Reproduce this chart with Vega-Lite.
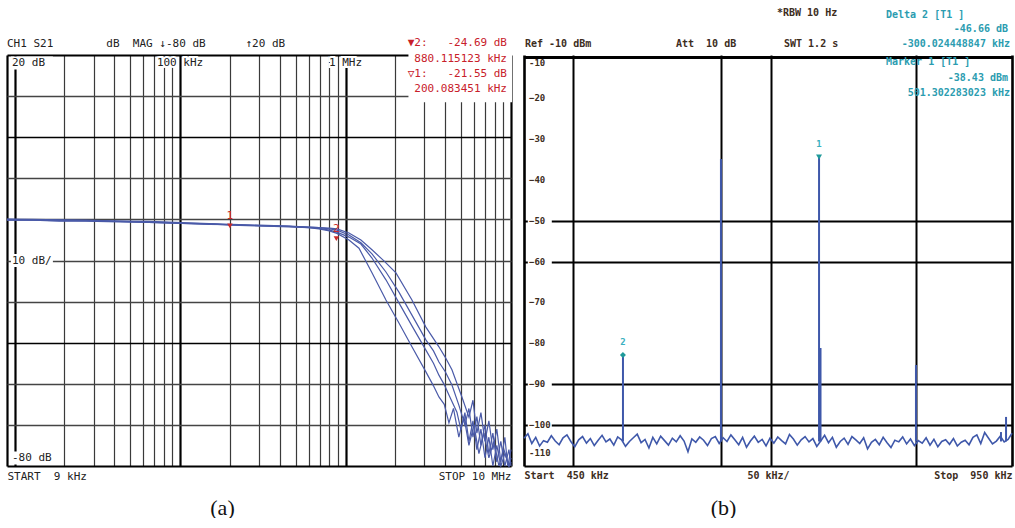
{
"$schema": "https://vega.github.io/schema/vega-lite/v6.json",
"background": "white",
"padding": {"left": 4, "top": 8, "right": 0, "bottom": 0},
"spacing": 6,
"config": {"view": {"stroke": null}},
"datasets": {
"resp": [
{"trace":"A","f":9,"db":-20.0},{"trace":"A","f":13,"db":-20.1},{"trace":"A","f":18.6,"db":-20.2},{"trace":"A","f":27,"db":-20.3},{"trace":"A","f":42.8,"db":-20.5},{"trace":"A","f":65,"db":-20.6},{"trace":"A","f":102.7,"db":-20.9},{"trace":"A","f":150,"db":-21.1},{"trace":"A","f":203,"db":-21.3},{"trace":"A","f":300,"db":-21.5},{"trace":"A","f":455,"db":-21.7},{"trace":"A","f":600,"db":-22.0},{"trace":"A","f":691,"db":-22.3},{"trace":"A","f":800,"db":-22.8},{"trace":"A","f":887,"db":-23.4},{"trace":"A","f":1049,"db":-25.0},{"trace":"A","f":1206,"db":-27.0},{"trace":"A","f":1445,"db":-33.0},{"trace":"A","f":1755,"db":-39.6},{"trace":"A","f":2103,"db":-45.2},{"trace":"A","f":2520,"db":-51.0},{"trace":"A","f":3060,"db":-57.1},{"trace":"A","f":3400,"db":-60.5},{"trace":"A","f":3668,"db":-63.2},{"trace":"A","f":3950,"db":-65.0},{"trace":"A","f":4216,"db":-69.5},{"trace":"A","f":4490,"db":-66},{"trace":"A","f":4840,"db":-73},{"trace":"A","f":5195,"db":-68},{"trace":"A","f":5569,"db":-75},{"trace":"A","f":5970,"db":-70},{"trace":"A","f":6400,"db":-77},{"trace":"A","f":6860,"db":-72},{"trace":"A","f":7350,"db":-78},{"trace":"A","f":7880,"db":-74},{"trace":"A","f":8450,"db":-80},{"trace":"A","f":9060,"db":-76},{"trace":"A","f":9720,"db":-80},{"trace":"A","f":10000,"db":-78},
{"trace":"B","f":9,"db":-20.2},{"trace":"B","f":13,"db":-20.2},{"trace":"B","f":18.6,"db":-20.4},{"trace":"B","f":27,"db":-20.4},{"trace":"B","f":42.8,"db":-20.6},{"trace":"B","f":65,"db":-20.7},{"trace":"B","f":102.7,"db":-21.0},{"trace":"B","f":150,"db":-21.1},{"trace":"B","f":203,"db":-21.4},{"trace":"B","f":300,"db":-21.6},{"trace":"B","f":455,"db":-21.8},{"trace":"B","f":600,"db":-22.0},{"trace":"B","f":691,"db":-22.2},{"trace":"B","f":800,"db":-22.6},{"trace":"B","f":887,"db":-23.1},{"trace":"B","f":1049,"db":-24.3},{"trace":"B","f":1239,"db":-26.0},{"trace":"B","f":1445,"db":-29.4},{"trace":"B","f":1755,"db":-34.7},{"trace":"B","f":2103,"db":-40.3},{"trace":"B","f":2520,"db":-45.9},{"trace":"B","f":3060,"db":-51.8},{"trace":"B","f":3400,"db":-55.0},{"trace":"B","f":3668,"db":-57.9},{"trace":"B","f":3950,"db":-60.2},{"trace":"B","f":4216,"db":-62.7},{"trace":"B","f":4712,"db":-66.9},{"trace":"B","f":4982,"db":-71.2},{"trace":"B","f":5265,"db":-67},{"trace":"B","f":5569,"db":-74},{"trace":"B","f":5890,"db":-69},{"trace":"B","f":6220,"db":-76},{"trace":"B","f":6580,"db":-71},{"trace":"B","f":6960,"db":-78},{"trace":"B","f":7350,"db":-73},{"trace":"B","f":7770,"db":-80},{"trace":"B","f":8210,"db":-75},{"trace":"B","f":8680,"db":-80},{"trace":"B","f":9180,"db":-77},{"trace":"B","f":9720,"db":-80},{"trace":"B","f":10000,"db":-79},
{"trace":"C","f":9,"db":-19.9},{"trace":"C","f":13,"db":-20.0},{"trace":"C","f":18.6,"db":-20.1},{"trace":"C","f":27,"db":-20.2},{"trace":"C","f":42.8,"db":-20.4},{"trace":"C","f":65,"db":-20.5},{"trace":"C","f":102.7,"db":-20.8},{"trace":"C","f":150,"db":-21.0},{"trace":"C","f":203,"db":-21.2},{"trace":"C","f":300,"db":-21.4},{"trace":"C","f":455,"db":-21.6},{"trace":"C","f":600,"db":-21.9},{"trace":"C","f":691,"db":-22.0},{"trace":"C","f":800,"db":-22.3},{"trace":"C","f":887,"db":-22.6},{"trace":"C","f":1049,"db":-23.8},{"trace":"C","f":1239,"db":-25.7},{"trace":"C","f":1445,"db":-28.4},{"trace":"C","f":1755,"db":-32.8},{"trace":"C","f":2103,"db":-37.7},{"trace":"C","f":2520,"db":-43.3},{"trace":"C","f":3060,"db":-49.3},{"trace":"C","f":3400,"db":-52.0},{"trace":"C","f":3668,"db":-54.7},{"trace":"C","f":4000,"db":-57.0},{"trace":"C","f":4397,"db":-60.3},{"trace":"C","f":4840,"db":-65.2},{"trace":"C","f":5265,"db":-70.0},{"trace":"C","f":5569,"db":-66},{"trace":"C","f":5890,"db":-73},{"trace":"C","f":6220,"db":-68},{"trace":"C","f":6580,"db":-75},{"trace":"C","f":6960,"db":-70},{"trace":"C","f":7350,"db":-77},{"trace":"C","f":7770,"db":-72},{"trace":"C","f":8210,"db":-79},{"trace":"C","f":8680,"db":-74},{"trace":"C","f":9180,"db":-80},{"trace":"C","f":9720,"db":-76},{"trace":"C","f":10000,"db":-80},
{"trace":"D","f":9,"db":-20.1},{"trace":"D","f":13,"db":-20.2},{"trace":"D","f":18.6,"db":-20.3},{"trace":"D","f":27,"db":-20.3},{"trace":"D","f":42.8,"db":-20.5},{"trace":"D","f":65,"db":-20.7},{"trace":"D","f":102.7,"db":-21.0},{"trace":"D","f":150,"db":-21.2},{"trace":"D","f":203,"db":-21.3},{"trace":"D","f":300,"db":-21.5},{"trace":"D","f":455,"db":-21.7},{"trace":"D","f":600,"db":-21.9},{"trace":"D","f":691,"db":-22.0},{"trace":"D","f":800,"db":-22.1},{"trace":"D","f":887,"db":-22.3},{"trace":"D","f":1049,"db":-23.3},{"trace":"D","f":1239,"db":-25.0},{"trace":"D","f":1445,"db":-27.4},{"trace":"D","f":1707,"db":-30.1},{"trace":"D","f":2017,"db":-33.0},{"trace":"D","f":2520,"db":-39.6},{"trace":"D","f":3060,"db":-46.2},{"trace":"D","f":3668,"db":-51.0},{"trace":"D","f":4000,"db":-53.5},{"trace":"D","f":4397,"db":-56.6},{"trace":"D","f":5050,"db":-63.2},{"trace":"D","f":5569,"db":-68.1},{"trace":"D","f":5890,"db":-64},{"trace":"D","f":6220,"db":-72},{"trace":"D","f":6580,"db":-67},{"trace":"D","f":6960,"db":-74},{"trace":"D","f":7350,"db":-69},{"trace":"D","f":7770,"db":-76},{"trace":"D","f":8210,"db":-71},{"trace":"D","f":8680,"db":-79},{"trace":"D","f":9180,"db":-73},{"trace":"D","f":9560,"db":-80},{"trace":"D","f":10000,"db":-76}
],
"mka": [{"f":200.08,"db":-21.55,"m":"1"},{"f":880.12,"db":-24.69,"m":"2"}],
"noise": [
{"f":450,"p":-103.2},{"f":454,"p":-102.1},{"f":458,"p":-104.5},{"f":462,"p":-103.0},{"f":466,"p":-105.1},{"f":470,"p":-103.8},{"f":474,"p":-104.2},{"f":478,"p":-102.6},{"f":482,"p":-103.9},{"f":486,"p":-104.8},
{"f":490,"p":-103.1},{"f":494,"p":-102.4},{"f":498,"p":-104.0},{"f":502,"p":-105.3},{"f":506,"p":-103.6},{"f":510,"p":-102.8},{"f":514,"p":-104.4},{"f":518,"p":-103.3},{"f":522,"p":-105.0},{"f":526,"p":-103.7},
{"f":530,"p":-102.5},{"f":534,"p":-104.1},{"f":538,"p":-103.4},{"f":542,"p":-104.9},{"f":546,"p":-102.9},{"f":550,"p":-103.6},{"f":554,"p":-105.2},{"f":558,"p":-104.0},{"f":562,"p":-103.1},{"f":566,"p":-102.2},
{"f":570,"p":-104.3},{"f":574,"p":-103.5},{"f":578,"p":-105.6},{"f":582,"p":-103.0},{"f":586,"p":-104.6},{"f":590,"p":-102.7},{"f":594,"p":-103.8},{"f":598,"p":-104.9},{"f":602,"p":-103.2},{"f":606,"p":-104.1},
{"f":610,"p":-102.6},{"f":614,"p":-103.9},{"f":618,"p":-106.5},{"f":622,"p":-103.4},{"f":626,"p":-104.2},{"f":630,"p":-102.9},{"f":634,"p":-103.7},{"f":638,"p":-105.0},{"f":642,"p":-103.3},{"f":646,"p":-102.8},
{"f":650,"p":-104.5},{"f":654,"p":-103.1},{"f":658,"p":-104.0},{"f":662,"p":-102.4},{"f":666,"p":-103.6},{"f":670,"p":-104.8},{"f":674,"p":-103.0},{"f":678,"p":-105.4},{"f":682,"p":-103.9},{"f":686,"p":-102.7},
{"f":690,"p":-104.2},{"f":694,"p":-103.5},{"f":698,"p":-105.1},{"f":702,"p":-103.2},{"f":706,"p":-104.4},{"f":710,"p":-102.9},{"f":714,"p":-103.8},{"f":718,"p":-104.6},{"f":722,"p":-102.3},{"f":726,"p":-103.4},
{"f":730,"p":-104.9},{"f":734,"p":-103.6},{"f":738,"p":-102.8},{"f":742,"p":-104.1},{"f":746,"p":-103.3},{"f":750,"p":-105.2},{"f":754,"p":-103.9},{"f":758,"p":-102.5},{"f":762,"p":-104.3},{"f":766,"p":-103.0},
{"f":770,"p":-105.4},{"f":774,"p":-104.0},{"f":778,"p":-103.2},{"f":782,"p":-104.7},{"f":786,"p":-102.8},{"f":790,"p":-103.6},{"f":794,"p":-104.5},{"f":798,"p":-103.1},{"f":802,"p":-105.8},{"f":806,"p":-104.2},
{"f":810,"p":-103.5},{"f":814,"p":-104.8},{"f":818,"p":-103.0},{"f":822,"p":-104.3},{"f":826,"p":-105.5},{"f":830,"p":-103.7},{"f":834,"p":-104.1},{"f":838,"p":-102.9},{"f":842,"p":-104.6},{"f":846,"p":-103.4},
{"f":850,"p":-105.0},{"f":854,"p":-103.8},{"f":858,"p":-104.4},{"f":862,"p":-103.1},{"f":866,"p":-104.9},{"f":870,"p":-103.5},{"f":874,"p":-105.3},{"f":878,"p":-104.0},{"f":882,"p":-103.6},{"f":886,"p":-104.7},
{"f":890,"p":-103.3},{"f":894,"p":-105.1},{"f":898,"p":-104.2},{"f":902,"p":-103.7},{"f":906,"p":-104.8},{"f":910,"p":-103.0},{"f":914,"p":-102.4},{"f":918,"p":-104.5},{"f":922,"p":-101.8},{"f":926,"p":-103.2},
{"f":930,"p":-104.6},{"f":934,"p":-103.9},{"f":938,"p":-102.7},{"f":942,"p":-104.1},{"f":946,"p":-103.5},{"f":950,"p":-102.0}
],
"peaks": [
{"f":551.4,"top":-82.86},{"f":651.8,"top":-34.93},{"f":752.3,"top":-34.44},{"f":753.8,"top":-81.15},{"f":851.6,"top":-85.3},{"f":938.7,"top":-101.7},{"f":943.9,"top":-98.0}
],
"mkb": [{"f":551.4,"p":-82.86,"m":"2"},{"f":752.3,"p":-34.44,"m":"1"}],
"ylab": [{"v":-20},{"v":-30},{"v":-40},{"v":-50},{"v":-60},{"v":-70},{"v":-80},{"v":-90},{"v":-100}]
},
"hconcat": [
{
"width": 504, "height": 411,
"layer": [
{
"data": {"name": "resp"},
"mark": {"type": "line", "color": "#4a5aa8", "strokeWidth": 1.2},
"encoding": {
"x": {"field": "f", "type": "quantitative", "scale": {"type": "log", "domain": [9, 10000], "nice": false},
 "axis": {
  "values": [9,10,20,30,40,50,60,70,80,90,100,200,300,400,500,600,700,800,900,1000,2000,3000,4000,5000,6000,7000,8000,9000,10000],
  "grid": true, "domain": false, "ticks": false,
  "gridColor": {"condition": {"test": "indexof([9,10,100,1000,10000], datum.value) >= 0", "value": "#000000"}, "value": "#3a3a3a"},
  "gridWidth": {"condition": {"test": "indexof([9,10,100,1000,10000], datum.value) >= 0", "value": 2.2}, "value": 1.2},
  "gridOpacity": 1,
  "labelExpr": "datum.value == 9 ? 'START\u00a0\u00a09\u00a0kHz' : (datum.value == 10000 ? 'STOP\u00a010\u00a0MHz' : '')",
  "labelFlush": true, "labelOverlap": false, "labelFont": "DejaVu Sans Mono", "labelFontSize": 11, "labelColor": "#222222", "labelPadding": 4,
  "title": "(a)", "titleFont": "Liberation Serif", "titleFontSize": 22, "titleFontWeight": "normal", "titleColor": "#111111", "titlePadding": 16, "titleX": 215, "titleAlign": "center"
 }},
"y": {"field": "db", "type": "quantitative", "scale": {"domain": [-80, 20], "nice": false, "zero": false},
 "axis": {
  "values": [-80,-70,-60,-50,-40,-30,-20,-10,0,10,20],
  "grid": true, "domain": false, "ticks": false, "labels": false, "title": null,
  "gridColor": {"condition": {"test": "indexof([-80,20,0,-50], datum.value) >= 0", "value": "#000000"}, "value": "#444444"},
  "gridWidth": {"condition": {"test": "datum.value == -80 || datum.value == 20", "value": 2.2}, "value": 1.4},
  "gridOpacity": 1
 }},
"detail": {"field": "trace"}
}
},
{
"data": {"values": [{}]},
"mark": {"type": "rect", "color": "white"},
"encoding": {
"x": {"datum": 2400, "type": "quantitative", "scale": {"type": "log", "domain": [9, 10000], "nice": false}},
"x2": {"datum": 10150},
"y": {"datum": 8.5, "type": "quantitative", "scale": {"domain": [-80, 20], "nice": false, "zero": false}},
"y2": {"datum": 20.4}
}
},
{
"data": {"values": [{}]},
"mark": {"type": "point", "shape": "M-1,-0.31H1V0.31H-1Z", "size": 1764, "filled": true, "color": "white", "opacity": 1, "xOffset": 24.9, "yOffset": 8},
"encoding": {
"x": {"datum": 9, "type": "quantitative", "scale": {"type": "log", "domain": [9, 10000], "nice": false}},
"y": {"datum": 20, "type": "quantitative", "scale": {"domain": [-80, 20], "nice": false, "zero": false}}
}
},
{
"data": {"values": [{}]},
"mark": {"type": "point", "shape": "M-1,-0.31H1V0.31H-1Z", "size": 1764, "filled": true, "color": "white", "opacity": 1, "xOffset": 24.9, "yOffset": 0},
"encoding": {
"x": {"datum": 9, "type": "quantitative", "scale": {"type": "log", "domain": [9, 10000], "nice": false}},
"y": {"datum": -30, "type": "quantitative", "scale": {"domain": [-80, 20], "nice": false, "zero": false}}
}
},
{
"data": {"values": [{}]},
"mark": {"type": "point", "shape": "M-1,-0.31H1V0.31H-1Z", "size": 1764, "filled": true, "color": "white", "opacity": 1, "xOffset": 24.9, "yOffset": -8},
"encoding": {
"x": {"datum": 9, "type": "quantitative", "scale": {"type": "log", "domain": [9, 10000], "nice": false}},
"y": {"datum": -80, "type": "quantitative", "scale": {"domain": [-80, 20], "nice": false, "zero": false}}
}
},
{
"data": {"name": "mka"},
"mark": {"type": "point", "shape": "triangle-down", "filled": true, "color": "#cc2a2a", "size": 30, "opacity": 1},
"encoding": {
"x": {"field": "f", "type": "quantitative", "scale": {"type": "log", "domain": [9, 10000], "nice": false}},
"y": {"field": "db", "type": "quantitative", "scale": {"domain": [-80, 20], "nice": false, "zero": false}}
}
},
{
"data": {"name": "mka"},
"mark": {"type": "text", "color": "#cc2a2a", "font": "DejaVu Sans Mono", "fontSize": 11, "dy": -10},
"encoding": {
"x": {"field": "f", "type": "quantitative", "scale": {"type": "log", "domain": [9, 10000], "nice": false}},
"y": {"field": "db", "type": "quantitative", "scale": {"domain": [-80, 20], "nice": false, "zero": false}},
"text": {"field": "m"}
}
},
{
"data": {"values": [{}]},
"mark": {"type": "text", "text": "CH1\u00a0S21\u00a0\u00a0\u00a0\u00a0\u00a0\u00a0\u00a0\u00a0dB\u00a0\u00a0MAG\u00a0\u2193-80\u00a0dB\u00a0\u00a0\u00a0\u00a0\u00a0\u00a0\u219120\u00a0dB", "align": "left", "baseline": "middle", "font": "DejaVu Sans Mono", "fontSize": 11, "color": "#222222"},
"encoding": {
"x": {"datum": 9, "type": "quantitative", "scale": {"type": "log", "domain": [9, 10000], "nice": false}},
"y": {"datum": 22.7, "type": "quantitative", "scale": {"domain": [-80, 20], "nice": false, "zero": false}}
}
},
{
"data": {"values": [{}]},
"mark": {"type": "text", "text": ["\u25bc2:\u00a0\u00a0\u00a0-24.69\u00a0dB", "880.115123\u00a0kHz", "\u25bd1:\u00a0\u00a0\u00a0-21.55\u00a0dB", "200.083451\u00a0kHz"], "align": "right", "baseline": "top", "lineHeight": 15.3, "dx": -4, "font": "DejaVu Sans Mono", "fontSize": 11, "color": "#c8202a"},
"encoding": {
"x": {"datum": 10000, "type": "quantitative", "scale": {"type": "log", "domain": [9, 10000], "nice": false}},
"y": {"datum": 24.3, "type": "quantitative", "scale": {"domain": [-80, 20], "nice": false, "zero": false}}
}
},
{
"data": {"values": [{}]},
"mark": {"type": "text", "text": "20\u00a0dB", "align": "left", "baseline": "middle", "dx": 5, "dy": 8, "font": "DejaVu Sans Mono", "fontSize": 11, "color": "#222222"},
"encoding": {
"x": {"datum": 9, "type": "quantitative", "scale": {"type": "log", "domain": [9, 10000], "nice": false}},
"y": {"datum": 20, "type": "quantitative", "scale": {"domain": [-80, 20], "nice": false, "zero": false}}
}
},
{
"data": {"values": [{}]},
"mark": {"type": "text", "text": "100\u00a0kHz", "align": "center", "baseline": "middle", "dy": 8, "font": "DejaVu Sans Mono", "fontSize": 11, "color": "white", "stroke": "white", "strokeWidth": 4},
"encoding": {
"x": {"datum": 100, "type": "quantitative", "scale": {"type": "log", "domain": [9, 10000], "nice": false}},
"y": {"datum": 20, "type": "quantitative", "scale": {"domain": [-80, 20], "nice": false, "zero": false}}
}
},
{
"data": {"values": [{}]},
"mark": {"type": "text", "text": "100\u00a0kHz", "align": "center", "baseline": "middle", "dy": 8, "font": "DejaVu Sans Mono", "fontSize": 11, "color": "#222222"},
"encoding": {
"x": {"datum": 100, "type": "quantitative", "scale": {"type": "log", "domain": [9, 10000], "nice": false}},
"y": {"datum": 20, "type": "quantitative", "scale": {"domain": [-80, 20], "nice": false, "zero": false}}
}
},
{
"data": {"values": [{}]},
"mark": {"type": "text", "text": "1\u00a0MHz", "align": "center", "baseline": "middle", "dy": 8, "font": "DejaVu Sans Mono", "fontSize": 11, "color": "white", "stroke": "white", "strokeWidth": 4},
"encoding": {
"x": {"datum": 1000, "type": "quantitative", "scale": {"type": "log", "domain": [9, 10000], "nice": false}},
"y": {"datum": 20, "type": "quantitative", "scale": {"domain": [-80, 20], "nice": false, "zero": false}}
}
},
{
"data": {"values": [{}]},
"mark": {"type": "text", "text": "1\u00a0MHz", "align": "center", "baseline": "middle", "dy": 8, "font": "DejaVu Sans Mono", "fontSize": 11, "color": "#222222"},
"encoding": {
"x": {"datum": 1000, "type": "quantitative", "scale": {"type": "log", "domain": [9, 10000], "nice": false}},
"y": {"datum": 20, "type": "quantitative", "scale": {"domain": [-80, 20], "nice": false, "zero": false}}
}
},
{
"data": {"values": [{}]},
"mark": {"type": "text", "text": "10\u00a0dB/", "align": "left", "baseline": "middle", "dx": 5, "font": "DejaVu Sans Mono", "fontSize": 11, "color": "#222222"},
"encoding": {
"x": {"datum": 9, "type": "quantitative", "scale": {"type": "log", "domain": [9, 10000], "nice": false}},
"y": {"datum": -30, "type": "quantitative", "scale": {"domain": [-80, 20], "nice": false, "zero": false}}
}
},
{
"data": {"values": [{}]},
"mark": {"type": "text", "text": "-80\u00a0dB", "align": "left", "baseline": "middle", "dx": 5, "dy": -8, "font": "DejaVu Sans Mono", "fontSize": 11, "color": "#222222"},
"encoding": {
"x": {"datum": 9, "type": "quantitative", "scale": {"type": "log", "domain": [9, 10000], "nice": false}},
"y": {"datum": -80, "type": "quantitative", "scale": {"domain": [-80, 20], "nice": false, "zero": false}}
}
}
]
},
{
"width": 488, "height": 411,
"layer": [
{
"data": {"name": "noise"},
"mark": {"type": "line", "color": "#3f58aa", "strokeWidth": 1.6},
"encoding": {
"x": {"field": "f", "type": "quantitative", "scale": {"domain": [450, 950], "nice": false, "zero": false},
 "axis": {
  "values": [450, 500, 652, 700, 703, 852, 950],
  "grid": true, "domain": false, "ticks": false,
  "gridColor": "#000000",
  "gridWidth": {"condition": {"test": "datum.value == 450 || datum.value == 950", "value": 2.6}, "value": 2},
  "gridOpacity": {"condition": {"test": "datum.value == 700", "value": 0}, "value": 1},
  "labelExpr": "datum.value == 450 ? 'Start\u00a0\u00a0450\u00a0kHz' : (datum.value == 700 ? '50\u00a0kHz/' : (datum.value == 950 ? 'Stop\u00a0\u00a0950\u00a0kHz' : ''))",
  "labelFlush": true, "labelOverlap": false, "labelFont": "DejaVu Sans Mono", "labelFontSize": 10, "labelFontWeight": "bold", "labelColor": "#3d2d1d", "labelPadding": 4,
  "title": "(b)", "titleFont": "Liberation Serif", "titleFontSize": 22, "titleFontWeight": "normal", "titleColor": "#111111", "titlePadding": 17, "titleX": 199, "titleAlign": "center"
 }},
"y": {"field": "p", "type": "quantitative", "scale": {"domain": [-110, -9.5], "nice": false, "zero": false},
 "axis": {
  "values": [-110,-100,-90,-80,-70,-60,-50,-40,-30,-20,-10],
  "grid": true, "domain": false, "ticks": false, "labels": false, "title": null,
  "gridColor": "#000000",
  "gridWidth": {"condition": {"test": "datum.value == -10", "value": 3}, "value": 2},
  "gridOpacity": {"condition": {"test": "indexof([-110,-100,-90,-60,-50,-10], datum.value) >= 0", "value": 1}, "value": 0}
 }}
}
},
{
"data": {"name": "peaks"},
"mark": {"type": "rule", "color": "#3f58aa", "strokeWidth": 2},
"encoding": {
"x": {"field": "f", "type": "quantitative", "scale": {"domain": [450, 950], "nice": false, "zero": false}},
"y": {"field": "top", "type": "quantitative", "scale": {"domain": [-110, -9.5], "nice": false, "zero": false}},
"y2": {"datum": -104}
}
},
{
"data": {"name": "mkb"},
"mark": {"type": "point", "filled": true, "color": "#1f9a9a", "size": 36, "opacity": 1},
"encoding": {
"x": {"field": "f", "type": "quantitative", "scale": {"domain": [450, 950], "nice": false, "zero": false}},
"y": {"field": "p", "type": "quantitative", "scale": {"domain": [-110, -9.5], "nice": false, "zero": false}},
"shape": {"field": "m", "type": "nominal", "scale": {"domain": ["1", "2"], "range": ["triangle-down", "diamond"]}, "legend": null}
}
},
{
"data": {"name": "mkb"},
"mark": {"type": "text", "color": "#3ab0c0", "font": "DejaVu Sans Mono", "fontSize": 9, "fontWeight": "bold", "dy": -13},
"encoding": {
"x": {"field": "f", "type": "quantitative", "scale": {"domain": [450, 950], "nice": false, "zero": false}},
"y": {"field": "p", "type": "quantitative", "scale": {"domain": [-110, -9.5], "nice": false, "zero": false}},
"text": {"field": "m"}
}
},
{
"data": {"name": "ylab"},
"mark": {"type": "point", "shape": "M-1,-0.42H1V0.42H-1Z", "size": 576, "filled": true, "color": "white", "opacity": 1, "xOffset": 15.8},
"encoding": {
"x": {"datum": 450, "type": "quantitative", "scale": {"domain": [450, 950], "nice": false, "zero": false}},
"y": {"field": "v", "type": "quantitative", "scale": {"domain": [-110, -9.5], "nice": false, "zero": false}}
}
},
{
"data": {"name": "ylab"},
"mark": {"type": "text", "align": "left", "baseline": "middle", "dx": 5, "font": "DejaVu Sans Mono", "fontSize": 9, "fontWeight": "bold", "color": "#3d2d1d"},
"encoding": {
"x": {"datum": 450, "type": "quantitative", "scale": {"domain": [450, 950], "nice": false, "zero": false}},
"y": {"field": "v", "type": "quantitative", "scale": {"domain": [-110, -9.5], "nice": false, "zero": false}},
"text": {"field": "v", "type": "quantitative", "format": "d"}
}
},
{
"data": {"values": [{}]},
"mark": {"type": "text", "text": "-10", "align": "left", "baseline": "middle", "dx": 5, "dy": 6, "font": "DejaVu Sans Mono", "fontSize": 9, "fontWeight": "bold", "color": "#3d2d1d"},
"encoding": {
"x": {"datum": 450, "type": "quantitative", "scale": {"domain": [450, 950], "nice": false, "zero": false}},
"y": {"datum": -10, "type": "quantitative", "scale": {"domain": [-110, -9.5], "nice": false, "zero": false}}
}
},
{
"data": {"values": [{}]},
"mark": {"type": "text", "text": "-110", "align": "left", "baseline": "middle", "dx": 5, "dy": -13, "font": "DejaVu Sans Mono", "fontSize": 9, "fontWeight": "bold", "color": "#3d2d1d"},
"encoding": {
"x": {"datum": 450, "type": "quantitative", "scale": {"domain": [450, 950], "nice": false, "zero": false}},
"y": {"datum": -110, "type": "quantitative", "scale": {"domain": [-110, -9.5], "nice": false, "zero": false}}
}
},
{
"data": {"values": [{}]},
"mark": {"type": "text", "text": "*RBW\u00a010\u00a0Hz", "align": "left", "baseline": "middle", "font": "DejaVu Sans Mono", "fontSize": 10, "fontWeight": "bold", "color": "#3d2d1d"},
"encoding": {
"x": {"datum": 709.2, "type": "quantitative", "scale": {"domain": [450, 950], "nice": false, "zero": false}},
"y": {"datum": 0.77, "type": "quantitative", "scale": {"domain": [-110, -9.5], "nice": false, "zero": false}}
}
},
{
"data": {"values": [{}]},
"mark": {"type": "text", "text": "Ref\u00a0-10\u00a0dBm", "align": "left", "baseline": "middle", "font": "DejaVu Sans Mono", "fontSize": 10, "fontWeight": "bold", "color": "#3d2d1d"},
"encoding": {
"x": {"datum": 451, "type": "quantitative", "scale": {"domain": [450, 950], "nice": false, "zero": false}},
"y": {"datum": -6.81, "type": "quantitative", "scale": {"domain": [-110, -9.5], "nice": false, "zero": false}}
}
},
{
"data": {"values": [{}]},
"mark": {"type": "text", "text": "Att\u00a0\u00a010\u00a0dB", "align": "left", "baseline": "middle", "font": "DejaVu Sans Mono", "fontSize": 10, "fontWeight": "bold", "color": "#3d2d1d"},
"encoding": {
"x": {"datum": 605.7, "type": "quantitative", "scale": {"domain": [450, 950], "nice": false, "zero": false}},
"y": {"datum": -6.81, "type": "quantitative", "scale": {"domain": [-110, -9.5], "nice": false, "zero": false}}
}
},
{
"data": {"values": [{}]},
"mark": {"type": "text", "text": "SWT\u00a01.2\u00a0s", "align": "left", "baseline": "middle", "font": "DejaVu Sans Mono", "fontSize": 10, "fontWeight": "bold", "color": "#3d2d1d"},
"encoding": {
"x": {"datum": 716.4, "type": "quantitative", "scale": {"domain": [450, 950], "nice": false, "zero": false}},
"y": {"datum": -6.81, "type": "quantitative", "scale": {"domain": [-110, -9.5], "nice": false, "zero": false}}
}
},
{
"data": {"values": [{}]},
"mark": {"type": "text", "text": "Delta\u00a02\u00a0[T1\u00a0]", "align": "left", "baseline": "middle", "font": "DejaVu Sans Mono", "fontSize": 10, "fontWeight": "bold", "color": "#2b9cb0"},
"encoding": {
"x": {"datum": 820.9, "type": "quantitative", "scale": {"domain": [450, 950], "nice": false, "zero": false}},
"y": {"datum": 0.28, "type": "quantitative", "scale": {"domain": [-110, -9.5], "nice": false, "zero": false}}
}
},
{
"data": {"values": [{}]},
"mark": {"type": "text", "text": "Marker\u00a01\u00a0[T1\u00a0]", "align": "left", "baseline": "middle", "font": "DejaVu Sans Mono", "fontSize": 10, "fontWeight": "bold", "color": "#2b9cb0"},
"encoding": {
"x": {"datum": 820.9, "type": "quantitative", "scale": {"domain": [450, 950], "nice": false, "zero": false}},
"y": {"datum": -11.21, "type": "quantitative", "scale": {"domain": [-110, -9.5], "nice": false, "zero": false}}
}
},
{
"data": {"values": [{}]},
"mark": {"type": "text", "text": "-46.66\u00a0dB", "align": "right", "baseline": "middle", "dx": -4, "font": "DejaVu Sans Mono", "fontSize": 10, "fontWeight": "bold", "color": "#2b9cb0"},
"encoding": {
"x": {"datum": 950, "type": "quantitative", "scale": {"domain": [450, 950], "nice": false, "zero": false}},
"y": {"datum": -3.14, "type": "quantitative", "scale": {"domain": [-110, -9.5], "nice": false, "zero": false}}
}
},
{
"data": {"values": [{}]},
"mark": {"type": "text", "text": "-300.024448847\u00a0kHz", "align": "right", "baseline": "middle", "dx": -2, "font": "DejaVu Sans Mono", "fontSize": 10, "fontWeight": "bold", "color": "#2b9cb0"},
"encoding": {
"x": {"datum": 950, "type": "quantitative", "scale": {"domain": [450, 950], "nice": false, "zero": false}},
"y": {"datum": -6.81, "type": "quantitative", "scale": {"domain": [-110, -9.5], "nice": false, "zero": false}}
}
},
{
"data": {"values": [{}]},
"mark": {"type": "text", "text": "-38.43\u00a0dBm", "align": "right", "baseline": "middle", "dx": -4, "font": "DejaVu Sans Mono", "fontSize": 10, "fontWeight": "bold", "color": "#2b9cb0"},
"encoding": {
"x": {"datum": 950, "type": "quantitative", "scale": {"domain": [450, 950], "nice": false, "zero": false}},
"y": {"datum": -15.12, "type": "quantitative", "scale": {"domain": [-110, -9.5], "nice": false, "zero": false}}
}
},
{
"data": {"values": [{}]},
"mark": {"type": "text", "text": "501.302283023\u00a0kHz", "align": "right", "baseline": "middle", "dx": -2, "font": "DejaVu Sans Mono", "fontSize": 10, "fontWeight": "bold", "color": "#2b9cb0"},
"encoding": {
"x": {"datum": 950, "type": "quantitative", "scale": {"domain": [450, 950], "nice": false, "zero": false}},
"y": {"datum": -18.79, "type": "quantitative", "scale": {"domain": [-110, -9.5], "nice": false, "zero": false}}
}
}
]
}
]
}
